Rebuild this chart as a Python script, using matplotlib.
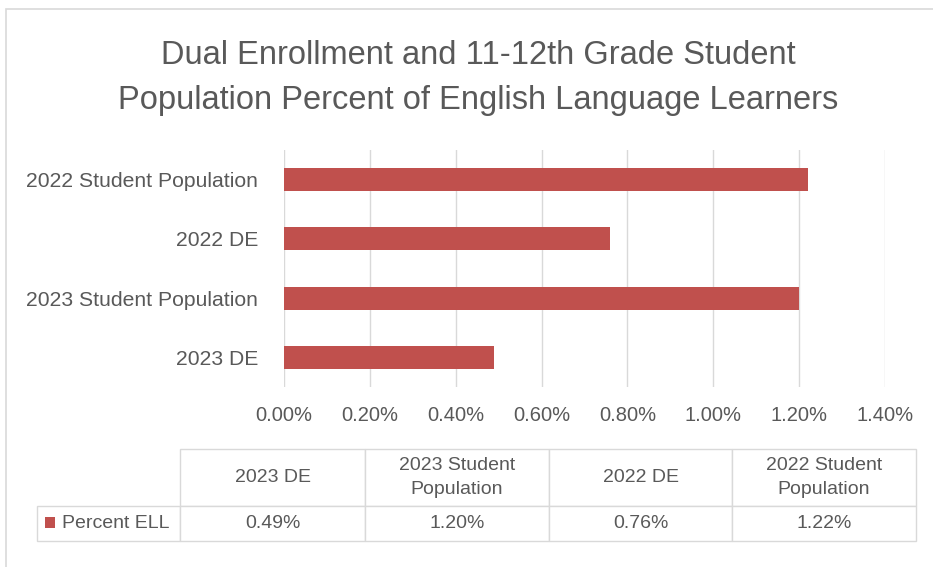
import matplotlib
matplotlib.use("Agg")
import matplotlib.pyplot as plt
from matplotlib.patches import Rectangle
from matplotlib.table import Table
from matplotlib.ticker import FuncFormatter, MultipleLocator

categories = ["2023 DE", "2023 Student Population", "2022 DE", "2022 Student Population"]
header_labels = ["2023 DE", "2023 Student\nPopulation", "2022 DE", "2022 Student\nPopulation"]
percent_ell = [0.49, 1.20, 0.76, 1.22]
series_name = "Percent ELL"

BAR = "#C0504D"
GRID = "#D9D9D9"
TXT = "#595959"

plt.rcParams["font.family"] = ["Liberation Sans", "DejaVu Sans"]
plt.rcParams["text.color"] = TXT

W, H = 933, 567
fig = plt.figure(figsize=(W / 100, H / 100), dpi=100)


def box(x0, y0, x1, y1):
    """pixel box -> figure fraction rect"""
    return [x0 / W, 1 - y1 / H, (x1 - x0) / W, (y1 - y0) / H]


# outer chart border (cropped on right/bottom)
fig.patches.append(Rectangle((6 / W, -0.2), 1.2, 1.2 - 9 / H, transform=fig.transFigure,
                             fill=False, edgecolor=GRID, linewidth=1.2))

fig.text(478 / W, 1 - 78 / H,
         "Dual Enrollment and 11-12th Grade Student\nPopulation Percent of English Language Learners",
         ha="center", va="center", fontsize=23.5, color=TXT, linespacing=1.55)

ax = fig.add_axes(box(284, 150, 885, 387))
ax.barh(range(len(categories)), percent_ell, height=0.39, color=BAR, zorder=3)
ax.set_xlim(0, 1.4)
ax.set_ylim(-0.5, len(categories) - 0.5)
ax.xaxis.set_major_locator(MultipleLocator(0.2))
ax.xaxis.set_major_formatter(FuncFormatter(lambda v, p: f"{v:.2f}%"))
ax.set_yticks(range(len(categories)))
ax.set_yticklabels(categories)
ax.grid(axis="x", color=GRID, linewidth=1, zorder=0)
for s in ax.spines.values():
    s.set_visible(False)
ax.tick_params(axis="both", length=0, labelcolor=TXT)
ax.tick_params(axis="x", pad=14, labelsize=14.5)
ax.tick_params(axis="y", pad=18.7, labelsize=15.2)

# data table under the chart; column 0 holds the series label
TW, TH = 879, 92
tax = fig.add_axes(box(37, 449, 37 + TW, 449 + TH))
tax.set_axis_off()
tab = Table(tax, bbox=[0, 0, 1, 1])
tab.auto_set_font_size(False)
col_w = [143, 185, 184, 183, 184]
hdr_h, row_h = 57, 35


def style(cell, size=14):
    cell.set_edgecolor(GRID)
    cell.set_linewidth(1)
    cell.get_text().set_color(TXT)
    cell.get_text().set_fontsize(size)
    return cell


for j, lab in enumerate(header_labels):
    c = style(tab.add_cell(0, j + 1, width=col_w[j + 1] / TW, height=hdr_h / TH,
                           text=lab, loc="center"))
    c.get_text().set_linespacing(1.55)
for j, v in enumerate(percent_ell):
    style(tab.add_cell(1, j + 1, width=col_w[j + 1] / TW, height=row_h / TH,
                       text=f"{v:.2f}%", loc="center"))
c = style(tab.add_cell(1, 0, width=col_w[0] / TW, height=row_h / TH,
                       text=series_name, loc="left"))
c.PAD = 25 / col_w[0]
tax.add_table(tab)
# legend key in the row-label cell
tax.add_patch(Rectangle((8 / TW, 13 / TH), 10 / TW, 11 / TH, transform=tax.transAxes,
                        facecolor=BAR, edgecolor="none", clip_on=False))

fig.savefig("out.png", dpi=100)
